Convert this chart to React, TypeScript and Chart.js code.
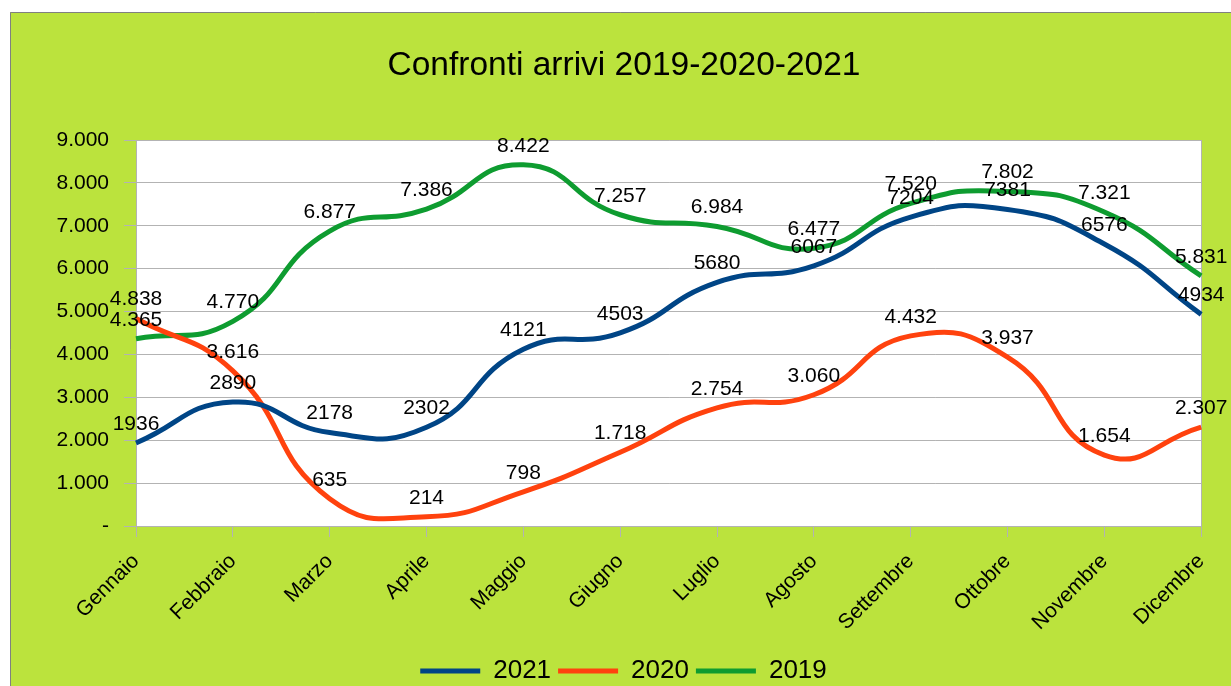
import React, { useEffect, useRef } from 'react';
import { Chart, registerables } from 'chart.js';

Chart.register(...registerables);

const months = ['Gennaio', 'Febbraio', 'Marzo', 'Aprile', 'Maggio', 'Giugno', 'Luglio', 'Agosto', 'Settembre', 'Ottobre', 'Novembre', 'Dicembre'];
const values2021 = [1936, 2890, 2178, 2302, 4121, 4503, 5680, 6067, 7204, 7381, 6576, 4934];
const values2020 = [4838, 3616, 635, 214, 798, 1718, 2754, 3060, 4432, 3937, 1654, 2307];
const values2019 = [4365, 4770, 6877, 7386, 8422, 7257, 6984, 6477, 7520, 7802, 7321, 5831];
const seriesNames = ['2021', '2020', '2019'];
const seriesColors = ['#004586', '#ff420e', '#0e9c30'];
const useSeparator = [false, true, true];
const yMin = 0;
const yMax = 9000;
const yStep = 1000;
const titleText = 'Confronti arrivi 2019-2020-2021';

const FONT = "'Liberation Sans', Arial, sans-serif";

const dotFormat = (v: number) => String(Math.round(v)).replace(/\B(?=(\d{3})+(?!\d))/g, '.');

const bgPlugin = {
  id: 'bgPlugin',
  beforeDraw(chart: any) {
    const { ctx, width, height, chartArea } = chart;
    ctx.save();
    ctx.fillStyle = '#ffffff';
    ctx.fillRect(0, 0, width, height);
    ctx.fillStyle = '#bbe33d';
    ctx.fillRect(10, 12, width - 10, height - 12);
    ctx.strokeStyle = '#808080';
    ctx.lineWidth = 1;
    ctx.beginPath();
    ctx.moveTo(10.5, height);
    ctx.lineTo(10.5, 12.5);
    ctx.lineTo(width, 12.5);
    ctx.stroke();
    ctx.fillStyle = '#ffffff';
    ctx.fillRect(chartArea.left, chartArea.top, chartArea.right - chartArea.left, chartArea.bottom - chartArea.top);
    // title
    ctx.fillStyle = '#000000';
    ctx.font = `33.5px ${FONT}`;
    ctx.textAlign = 'center';
    ctx.textBaseline = 'middle';
    ctx.fillText(titleText, 624, 66);
    ctx.restore();
  },
  beforeDatasetsDraw(chart: any) {
    const { ctx, chartArea } = chart;
    ctx.save();
    ctx.strokeStyle = '#b3b3b3';
    ctx.lineWidth = 1;
    ctx.beginPath();
    ctx.moveTo(Math.round(chartArea.right) + 0.5, chartArea.top);
    ctx.lineTo(Math.round(chartArea.right) + 0.5, chartArea.bottom);
    ctx.stroke();
    ctx.restore();
  },
};

const labelPlugin = {
  id: 'labelPlugin',
  afterDatasetsDraw(chart: any) {
    const { ctx } = chart;
    ctx.save();
    ctx.font = `21px ${FONT}`;
    ctx.fillStyle = '#000000';
    ctx.textAlign = 'center';
    ctx.textBaseline = 'middle';
    chart.data.datasets.forEach((ds: any, di: number) => {
      const meta = chart.getDatasetMeta(di);
      meta.data.forEach((pt: any, i: number) => {
        const v = ds.data[i];
        const txt = useSeparator[di] ? dotFormat(v) : String(v);
        ctx.fillText(txt, pt.x, pt.y - 19);
      });
    });
    ctx.restore();
  },
};

export default function App() {
  const ref = useRef<HTMLCanvasElement | null>(null);

  useEffect(() => {
    document.body.style.margin = '0';
    document.body.style.overflow = 'hidden';
    const canvas = ref.current;
    if (!canvas) return;
    const seriesValues = [values2021, values2020, values2019];
    const chart = new Chart(canvas, {
      type: 'line',
      data: {
        labels: months,
        datasets: seriesNames.map((name, i) => ({
          label: name,
          data: seriesValues[i],
          borderColor: seriesColors[i],
          backgroundColor: seriesColors[i],
          borderWidth: 5,
          pointRadius: 0,
          pointHoverRadius: 0,
          tension: 0.5,
          fill: false,
        })),
      },
      options: {
        responsive: false,
        animation: false,
        devicePixelRatio: 1,
        layout: { padding: { left: 10, top: 140, right: -6, bottom: -8 } },
        plugins: {
          title: { display: false },
          legend: {
            display: true,
            position: 'bottom',
            labels: {
              usePointStyle: true,
              pointStyle: 'line',
              pointStyleWidth: 60,
              color: '#000000',
              font: { family: FONT, size: 26 },
              padding: 7,
            },
          },
          tooltip: { enabled: false },
        },
        scales: {
          x: {
            offset: false,
            grid: { drawOnChartArea: false, drawTicks: true, tickLength: 11, color: '#b3b3b3' },
            border: { display: true, color: '#b3b3b3' },
            ticks: {
              color: '#000000',
              font: { family: FONT, size: 21 },
              minRotation: 45,
              maxRotation: 45,
              autoSkip: false,
              padding: 12,
            },
            afterFit: (scale: any) => {
              scale.height = 125;
            },
          },
          y: {
            min: yMin,
            max: yMax,
            grid: { color: '#b3b3b3', tickLength: 12 },
            border: { display: true, color: '#b3b3b3' },
            ticks: {
              stepSize: yStep,
              color: '#000000',
              font: { family: FONT, size: 21 },
              padding: 15,
              callback: (v: any) => (Number(v) === 0 ? '-' : dotFormat(Number(v))),
            },
            afterFit: (scale: any) => {
              scale.width = 126;
            },
          },
          yRight: {
            position: 'right',
            display: true,
            min: yMin,
            max: yMax,
            grid: { display: false, drawOnChartArea: false, drawTicks: false },
            border: { display: false },
            ticks: { display: false },
            afterFit: (scale: any) => {
              scale.width = 32;
            },
          },
        },
      },
      plugins: [bgPlugin, labelPlugin],
    });
    return () => chart.destroy();
  }, []);

  return (
    <div style={{ width: 1231, height: 686, position: 'relative' }}>
      <canvas ref={ref} width={1231} height={686} style={{ display: 'block' }} />
    </div>
  );
}
